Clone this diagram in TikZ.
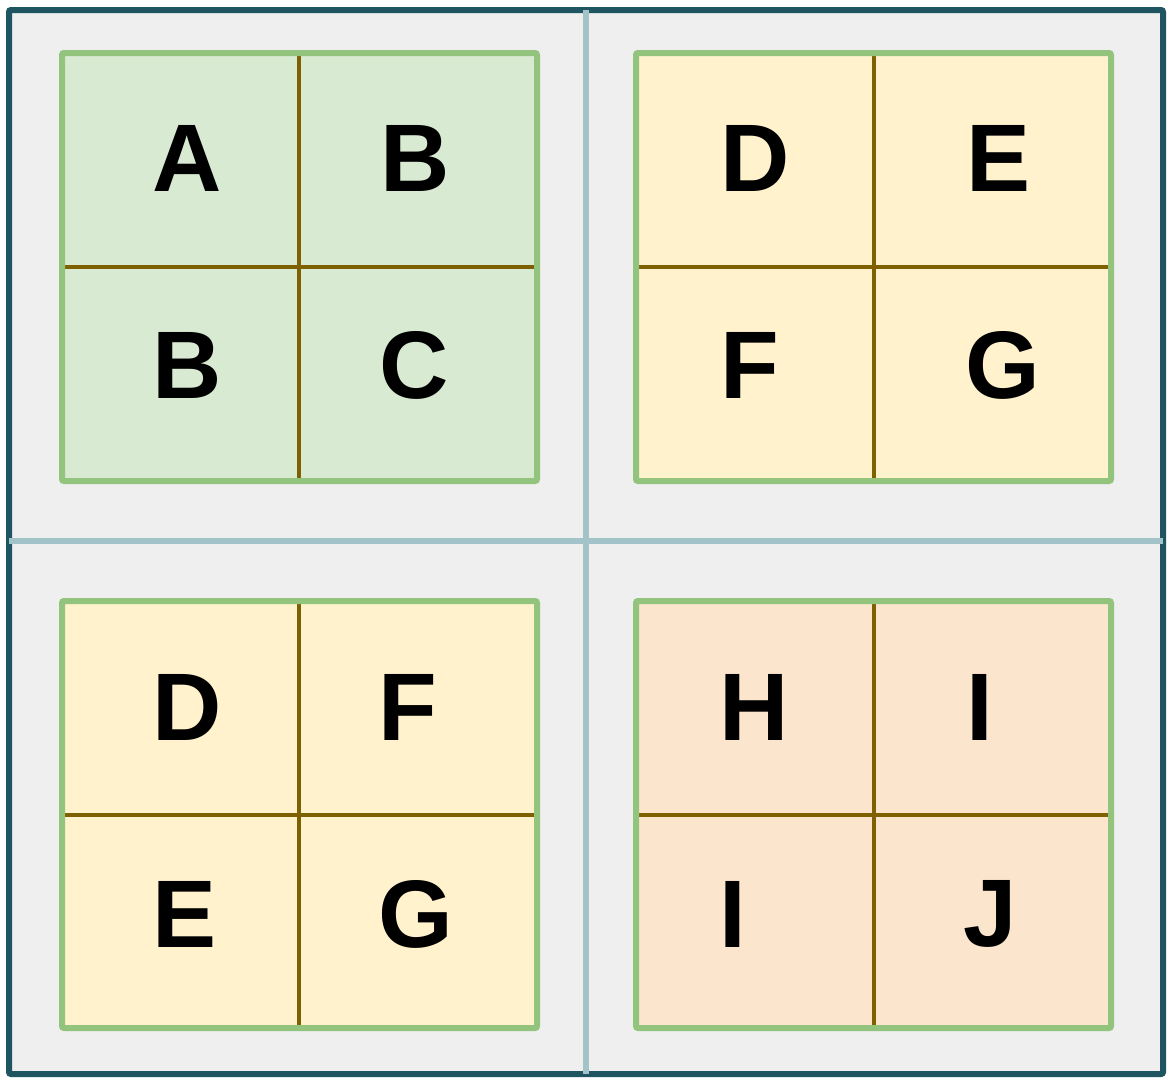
\documentclass[tikz,border=0pt]{standalone}
\usepackage{fontspec}
\setmainfont{Liberation Sans}
\usepackage{tikz}

\definecolor{frameteal}{HTML}{1F5560}
\definecolor{panelgray}{HTML}{EFEFEF}
\definecolor{splitblue}{HTML}{A2C4C9}
\definecolor{boxgreen}{HTML}{93C47D}
\definecolor{cellgreen}{HTML}{D9EAD3}
\definecolor{cellyellow}{HTML}{FFF2CC}
\definecolor{cellorange}{HTML}{FCE5CD}
\definecolor{gridbrown}{HTML}{7F6000}

\begin{document}
\begin{tikzpicture}[x=0.5pt, y=-0.5pt,
    letter/.style={font=\fontsize{48}{48}\selectfont\bfseries, inner sep=0pt},
    quad/.style={draw=boxgreen, line width=3pt, rounded corners=1pt},
    cellline/.style={draw=gridbrown, line width=2pt}]
    \useasboundingbox (0,0) rectangle (1176,1082);

    % outer frame and the two split lines
    \draw[fill=panelgray, draw=frameteal, line width=3pt, rounded corners=1pt] (9,10) rectangle (1163,1074);
    \coordinate (vtop) at (586,10);
    \coordinate (vbot) at (586,1074);
    \coordinate (hleft) at (9,541);
    \coordinate (hright) at (1163,541);
    \draw[splitblue, line width=3pt] (vtop) -- (vbot);
    \draw[splitblue, line width=3pt] (hleft) -- (hright);

    % top left
    \fill[cellgreen] (62,53) rectangle (537,481);
    \draw[cellline] (299,53) -- (299,481);
    \draw[cellline] (62,267) -- (537,267);
    \draw[quad] (62,53) rectangle (537,481);
    \node[letter] (a) at (187,158) {A};
    \node[letter] (b1) at (415,158) {B};
    \node[letter] (b2) at (187,365) {B};
    \node[letter] (c) at (414,365) {C};

    % top right
    \fill[cellyellow] (636,53) rectangle (1111,481);
    \draw[cellline] (874,53) -- (874,481);
    \draw[cellline] (636,267) -- (1111,267);
    \draw[quad] (636,53) rectangle (1111,481);
    \node[letter] (d1) at (755,158) {D};
    \node[letter] (e1) at (998,158) {E};
    \node[letter] (f1) at (750,365) {F};
    \node[letter] (g1) at (1003,365) {G};

    % bottom left
    \fill[cellyellow] (62,601) rectangle (537,1028);
    \draw[cellline] (299,601) -- (299,1028);
    \draw[cellline] (62,815) -- (537,815);
    \draw[quad] (62,601) rectangle (537,1028);
    \node[letter] (d2) at (187,707) {D};
    \node[letter] (f2) at (408,707) {F};
    \node[letter] (e2) at (185,914) {E};
    \node[letter] (g2) at (416,914) {G};

    % bottom right
    \fill[cellorange] (636,601) rectangle (1111,1028);
    \draw[cellline] (874,601) -- (874,1028);
    \draw[cellline] (636,815) -- (1111,815);
    \draw[quad] (636,601) rectangle (1111,1028);
    \node[letter] (h) at (754,707) {H};
    \node[letter] (i1) at (980,707) {I};
    \node[letter] (i2) at (733,914) {I};
    \node[letter] (j) at (990,914) {J};
\end{tikzpicture}
\end{document}
